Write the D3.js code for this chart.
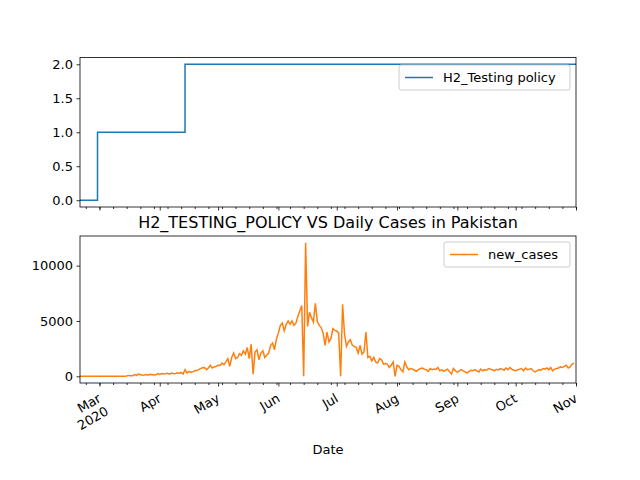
<!DOCTYPE html>
<html><head><meta charset="utf-8">
<script src="https://cdn.jsdelivr.net/npm/d3@7"></script>
<style>body{margin:0;background:#fff}text{font-family:"DejaVu Sans",sans-serif}</style>
</head><body><svg id="c" width="640" height="480"></svg>
<script>
const startDate = "2020-02-20"
const endDate = "2020-11-01"
// H2 testing policy change points
const policyDates = ["2020-02-20", "2020-02-29", "2020-04-14", "2020-11-01"]
const policyValues = [0, 1, 2, 2]
// daily new cases from 2020-02-20
const newCases = [
  0,0,0,0,0,0,2,0,0,2,
  0,1,0,0,0,0,0,0,10,0, 0,2,8,3,23,82,53,60,150,80, 200,150,90,120,170,100,180,150,120,140,250,
  170,250,210,230,280,200,300,250,230,310, 260,350,200,600,300,450,350,400,500,520, 600,700,780,800,600,750,1000,750,850,900,
  1000,990,1200,1050,1300,1600,900,1700,2100,1600, 1700,2050,1900,2300,2000,2600,1600,2900,200,2200, 2400,1500,2100,2300,1700,1900,2100,2800,3000,2400,3400,
  3900,4600,4800,4100,4700,5000,4700,5000,4600,4800, 5400,5900,6400,0,12073,4500,5800,5300,4900,6600, 4950,4600,4400,3900,2800,4000,3100,3400,4300,4150,
  4100,3900,0,6500,3800,2700,3100,3300,2800,2700, 2600,2100,2800,2000,2200,4000,1700,1800,1400,1700, 1300,1200,1600,1500,1100,1150,1100,800,1000,1300,0,
  1000,900,600,400,1300,850,600,700,650,550, 450,600,700,750,650,600,450,700,600,650, 620,800,500,600,450,550,650,400,200,700,500,
  360,500,600,500,400,300,450,550,500,600, 500,400,650,500,600,550,700,650,600,500, 640,580,700,650,550,750,600,800,650,550,
  500,600,650,700,500,750,600,650,700,500, 400,500,600,550,700,650,750,600,800,500, 650,700,750,850,800,900,1000,750,850,1100,1200
]
const topTicks = [0, 0.5, 1, 1.5, 2]
const bottomTicks = [0, 5000, 10000]

const parse = d3.utcParse("%Y-%m-%d")
const start = parse(startDate)
const cases = newCases.map((v, i) => ({ date: d3.utcDay.offset(start, i), value: v }))
const policy = policyDates.map((d, i) => ({ date: parse(d), value: policyValues[i] }))

const svg = d3.select("#c")
const L = 80, R = 576
const FS = 13
const x = d3.scaleUtc().domain([start, parse(endDate)]).range([L, R])
const yTop = d3.scaleLinear().domain([-0.1, 2.1]).range([207, 57.5])
const yBot = d3.scaleLinear().domain([-604, 12677]).range([383, 236])

function frame(y0, y1) {
  svg.append("rect").attr("x", L).attr("y", y0).attr("width", R - L).attr("height", y1 - y0)
    .attr("fill", "none").attr("stroke", "#000").attr("stroke-width", 0.8)
}
function xAxis(y0, labels) {
  const g = svg.append("g").attr("transform", `translate(0,${y0})`)
  g.call(d3.axisBottom(x).ticks(d3.utcWeek).tickSize(2).tickFormat(""))
  const ax = d3.axisBottom(x).ticks(d3.utcMonth).tickSize(3.5)
    .tickFormat(d => labels ? d3.utcFormat("%b")(d) : "")
  const g2 = svg.append("g").attr("transform", `translate(0,${y0})`).call(ax)
  ;[g, g2].forEach(a => { a.select(".domain").remove(); a.selectAll("line").attr("stroke", "#000").attr("stroke-width", 0.8) })
  if (labels) {
    g2.selectAll("text").attr("font-size", FS).attr("fill", "#000")
      .attr("text-anchor", "end").attr("dy", 0).attr("y", 0)
      .attr("transform", "translate(2,18) rotate(-30)")
      .each(function (d) {
        if (d.getUTCMonth() === 2) {
          d3.select(this).text(null)
          d3.select(this).append("tspan").attr("x", 0).text("Mar")
          d3.select(this).append("tspan").attr("x", 0).attr("dy", "1.15em").text("2020")
        }
      })
  }
}
function yAxis(y, ticks) {
  const g = svg.append("g").attr("transform", `translate(${L},0)`)
    .call(d3.axisLeft(y).tickValues(ticks).tickSize(3.5).tickPadding(3.5).tickFormat(d => y === yTop ? d3.format(".1f")(d) : d))
  g.select(".domain").remove()
  g.selectAll("line").attr("stroke", "#000").attr("stroke-width", 0.8)
  g.selectAll("text").attr("font-size", FS).attr("fill", "#000")
}

// top panel
svg.append("path").datum(policy).attr("fill", "none").attr("stroke", "#1f77b4").attr("stroke-width", 1.5)
  .attr("d", d3.line().curve(d3.curveStepAfter).x(d => x(d.date)).y(d => yTop(d.value)))
frame(57.5, 207); yAxis(yTop, topTicks); xAxis(207, false)

// bottom panel
svg.append("path").datum(cases).attr("fill", "none").attr("stroke", "#ff7f0e").attr("stroke-width", 1.5)
  .attr("d", d3.line().x(d => x(d.date)).y(d => yBot(d.value)))
frame(236, 383); yAxis(yBot, bottomTicks); xAxis(383, true)

svg.append("text").attr("x", 328).attr("y", 228).attr("text-anchor", "middle").attr("font-size", 16)
  .text("H2_TESTING_POLICY VS Daily Cases in Pakistan")
svg.append("text").attr("x", 328).attr("y", 454).attr("text-anchor", "middle").attr("font-size", FS).text("Date")

function legend(x0, y0, w, label, color) {
  svg.append("rect").attr("x", x0).attr("y", y0).attr("width", w).attr("height", 25).attr("rx", 2)
    .attr("fill", "#fff").attr("fill-opacity", 0.8).attr("stroke", "#ccc")
  svg.append("line").attr("x1", x0 + 6).attr("x2", x0 + 34).attr("y1", y0 + 12.5).attr("y2", y0 + 12.5)
    .attr("stroke", color).attr("stroke-width", 1.5)
  svg.append("text").attr("x", x0 + 44).attr("y", y0 + 17).attr("font-size", FS).text(label)
}
legend(399, 65, 171, "H2_Testing policy", "#1f77b4")
legend(444, 242, 126, "new_cases", "#ff7f0e")
</script></body></html>
